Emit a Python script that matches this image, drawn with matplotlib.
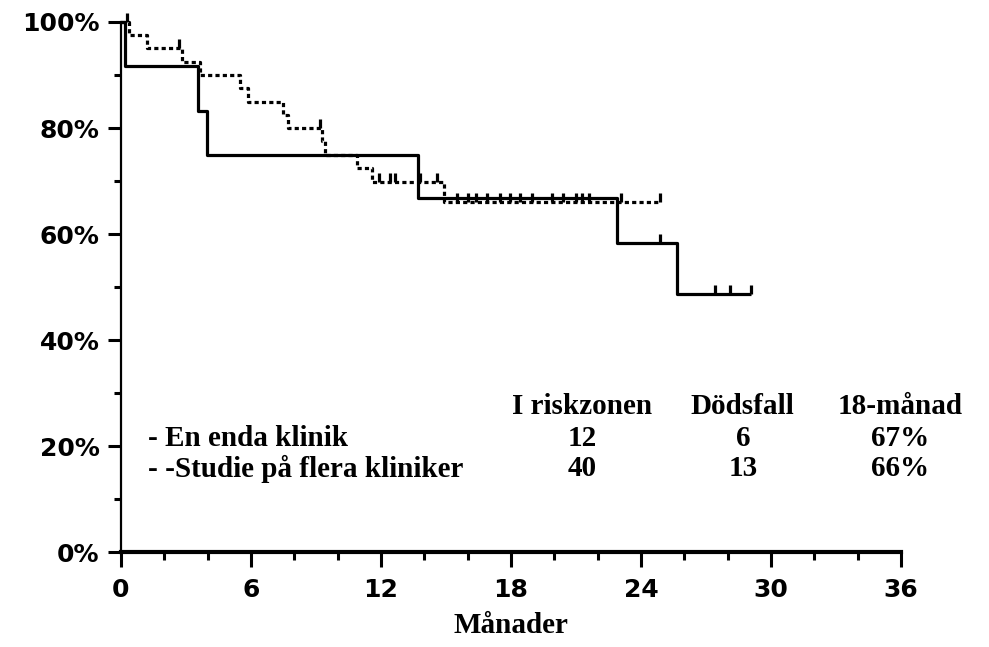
import numpy as np
import matplotlib
matplotlib.use("Agg")
import matplotlib.pyplot as plt
from matplotlib.ticker import MultipleLocator, FuncFormatter

# survival curves (months, percent)
single_times = [0, 0.2, 3.55, 3.95, 13.7, 22.9, 25.65]
single_surv = [100, 91.7, 83.3, 75.0, 66.7, 58.3, 48.6]
single_end = 29.1
single_censor = [24.9, 27.4, 28.1, 29.1]

multi_times = [0, 0.35, 1.2, 2.8, 3.65, 5.5, 5.85, 7.5, 7.7, 9.3, 9.4, 10.9, 11.6, 14.9]
multi_surv = [100, 97.5, 95.0, 92.5, 90.0, 87.5, 85.0, 82.5, 80.0, 77.5, 75.0, 72.4, 69.8, 66.0]
multi_end = 24.9
multi_censor = [0.3, 2.7, 9.2, 11.9, 12.4, 12.65, 13.8, 14.6, 15.5, 16.0, 16.4, 16.9,
                17.5, 17.95, 18.4, 18.97, 19.9, 20.4, 21.0, 21.3, 21.6, 23.1, 24.9]

col_heads = ["I riskzonen", "Dödsfall", "18-månad"]
row_labels = ["- En enda klinik", "- -Studie på flera kliniker"]
at_risk = ["12", "40"]
deaths = ["6", "13"]
surv18 = ["67%", "66%"]

fig = plt.figure(figsize=(9.89, 6.47), dpi=100)
ax = fig.add_axes([0.1223, 0.1468, 0.7887, 0.8192])


def draw_curve(times, surv, end, censor, style):
    xs = list(times) + [end]
    ys = list(surv) + [surv[-1]]
    ax.step(xs, ys, where="post", color="black", lw=2.3, linestyle=style,
            clip_on=False, solid_capstyle="butt", dash_capstyle="butt")
    # censor ticks pointing up from the curve
    idx = np.searchsorted(times, censor, side="right") - 1
    levels = np.array(surv)[idx]
    ax.vlines(censor, levels, levels + 1.7, color="black", lw=2.3, clip_on=False)


draw_curve(single_times, single_surv, single_end, single_censor, "-")
draw_curve(multi_times, multi_surv, multi_end, multi_censor, (0, (1.3, 1.0)))

ax.set_xlim(0, 36)
ax.set_ylim(0, 100)
ax.spines["top"].set_visible(False)
ax.spines["right"].set_visible(False)
ax.spines["left"].set_linewidth(1.6)
ax.spines["bottom"].set_linewidth(3.0)

ax.xaxis.set_major_locator(MultipleLocator(6))
ax.xaxis.set_minor_locator(MultipleLocator(2))
ax.yaxis.set_major_locator(MultipleLocator(20))
ax.yaxis.set_minor_locator(MultipleLocator(10))
ax.yaxis.set_major_formatter(FuncFormatter(lambda v, p: f"{v:.0f}%"))

ax.tick_params(axis="x", which="major", direction="out", length=11, width=2.2,
               pad=8, labelsize=18)
ax.tick_params(axis="x", which="minor", direction="out", length=6, width=2.2)
ax.tick_params(axis="y", which="major", direction="out", length=9.5, width=2.2,
               pad=6, labelsize=18)
ax.tick_params(axis="y", which="minor", direction="out", length=5, width=2.2)

for lab in ax.get_xticklabels() + ax.get_yticklabels():
    lab.set_fontfamily("DejaVu Sans")
    lab.set_fontweight("heavy")

ax.set_xlabel("Månader", family="Liberation Serif", fontweight="bold",
              fontsize=21, labelpad=7)

# small table of figures
serif = dict(family="Liberation Serif", fontweight="bold", fontsize=21,
             transform=ax.transData, va="center")
col_x = [21.3, 28.7, 35.95]
row_y = [27.4, 21.5, 15.7]
for x, head in zip(col_x, col_heads):
    ax.text(x, row_y[0], head, ha="center", **serif)
for i in range(2):
    ax.text(1.25, row_y[i + 1], row_labels[i], ha="left", **serif)
    ax.text(col_x[0], row_y[i + 1], at_risk[i], ha="center", **serif)
    ax.text(col_x[1], row_y[i + 1], deaths[i], ha="center", **serif)
    ax.text(col_x[2], row_y[i + 1], surv18[i], ha="center", **serif)

fig.savefig("out.png", dpi=100)
